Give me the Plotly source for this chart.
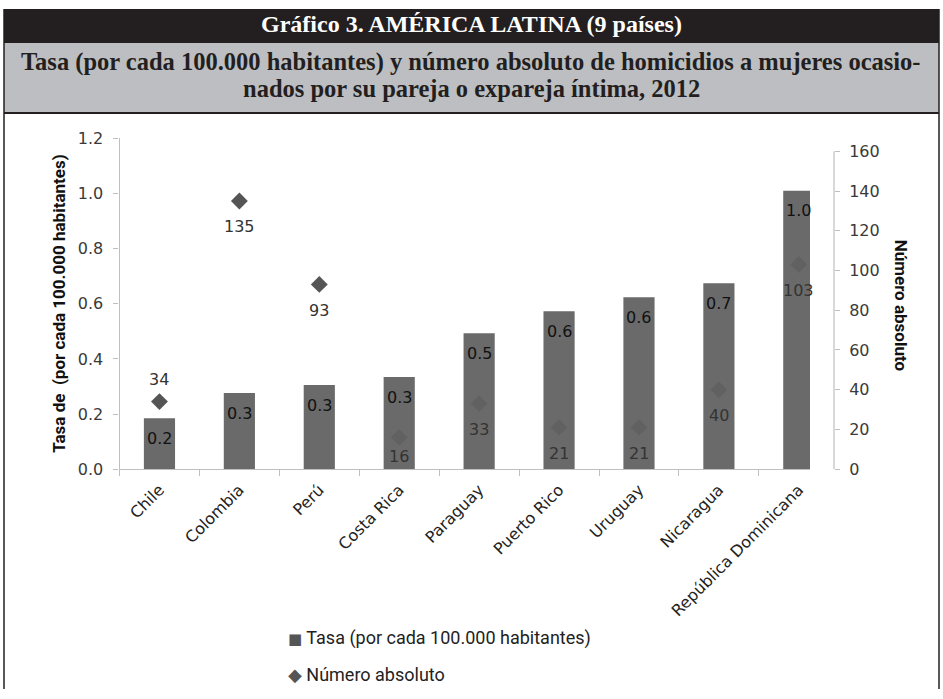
import plotly.graph_objects as go

W, H = 943, 699

categories = ["Chile", "Colombia", "Perú", "Costa Rica", "Paraguay",
              "Puerto Rico", "Uruguay", "Nicaragua", "República Dominicana"]
tasa = [0.185, 0.276, 0.305, 0.334, 0.493, 0.573, 0.624, 0.674, 1.01]
tasa_labels = ["0.2", "0.3", "0.3", "0.3", "0.5", "0.6", "0.6", "0.7", "1.0"]
numero = [34, 135, 93, 16, 33, 21, 21, 40, 103]
numero_labels = ["34", "135", "93", "16", "33", "21", "21", "40", "103"]
left_ticks = [0.0, 0.2, 0.4, 0.6, 0.8, 1.0, 1.2]
right_ticks = [0, 20, 40, 60, 80, 100, 120, 140, 160]

title = "Gráfico 3. AMÉRICA LATINA (9 países)"
subtitle_lines = ["Tasa (por cada 100.000 habitantes) y número absoluto de homicidios a mujeres ocasio-",
                  "nados por su pareja o expareja íntima, 2012"]
legend_names = ["Tasa (por cada 100.000 habitantes)", "Número absoluto"]

# style: vertical pixel offset of each "Número absoluto" label from its marker
numero_label_shift = [22, -26, -26, -19, -26, -26, -26, -26, -26]


def px(x):
    return x / W


def py(y):
    return 1 - y / H


TICKFONT = dict(family="DejaVu Sans", size=16, color="#3a3a3a")
AXCOL = "#bfbfbf"
PLOT_TOP, PLOT_BOTTOM = 133, 473

fig = go.Figure()

fig.add_trace(go.Scatter(
    x=categories, y=numero, yaxis="y", mode="markers",
    marker=dict(symbol="diamond", size=13, color="#555555"),
    name=legend_names[1], showlegend=False,
))

fig.add_trace(go.Bar(
    x=categories, y=tasa, yaxis="y2", width=0.39,
    marker=dict(color="rgba(98,98,98,0.95)", line=dict(width=0)),
    name=legend_names[0], showlegend=False,
))

annotations = []
for c, v, t in zip(categories, tasa, tasa_labels):
    annotations.append(dict(x=c, y=v, xref="x", yref="y2", text=t, showarrow=False,
                            yshift=-20, font=dict(family="DejaVu Sans", size=16, color="#111111")))
for c, v, t, sh in zip(categories, numero, numero_labels, numero_label_shift):
    annotations.append(dict(x=c, y=v, xref="x", yref="y", text=t, showarrow=False,
                            yshift=sh,
                            font=dict(family="DejaVu Sans", size=16, color="#333333")))

annotations.append(dict(x=px(471), y=py(15), xref="paper", yref="paper", text="<b>" + title + "</b>",
                        xanchor="center", yanchor="middle",
                        showarrow=False, font=dict(family="Liberation Serif", size=24, color="white")))
for line, ly in zip(subtitle_lines, [54, 82]):
    annotations.append(dict(x=px(471), y=py(ly), xref="paper", yref="paper",
                            text="<b>" + line + "</b>",
                            xanchor="center", yanchor="middle",
                            showarrow=False, align="center",
                            font=dict(family="Liberation Serif", size=24.5, color="#231f20")))
annotations.append(dict(x=px(59), y=py(303), xref="paper", yref="paper",
                        xanchor="center", yanchor="middle",
                        text="<b>Tasa de  (por cada 100.000 habitantes)</b>", textangle=-90,
                        showarrow=False, font=dict(family="Roboto", size=17, color="#111111")))
annotations.append(dict(x=px(901), y=py(305), xref="paper", yref="paper",
                        xanchor="center", yanchor="middle",
                        text="<b>Número absoluto</b>", textangle=90,
                        showarrow=False, font=dict(family="Roboto", size=17, color="#111111")))

# legend drawn as text entries
legend_symbols = ["<span style='font-size:15px'>■</span>", "<span style='font-size:18px'>◆</span>"]
legend_y = [647, 684]
for sym, name, ly in zip(legend_symbols, legend_names, legend_y):
    annotations.append(dict(x=px(286), y=py(ly), xref="paper", yref="paper",
                            xanchor="left", yanchor="middle", showarrow=False,
                            text=f"<span style='font-family:DejaVu Sans;color:#555555'>{sym}</span> {name}",
                            font=dict(family="Roboto", size=18, color="#222222")))

shapes = [
    dict(type="rect", xref="paper", yref="paper", x0=px(4), x1=px(939), y0=py(35), y1=py(0),
         fillcolor="#231f20", line=dict(width=0), layer="below"),
    dict(type="rect", xref="paper", yref="paper", x0=px(4), x1=px(939), y0=py(107), y1=py(35),
         fillcolor="#bdbec1", line=dict(width=0), layer="below"),
    dict(type="line", xref="paper", yref="paper", x0=px(4), x1=px(939), y0=py(107), y1=py(107),
         line=dict(color="#231f20", width=2)),
    dict(type="line", xref="paper", yref="paper", x0=px(4), x1=px(4), y0=py(0), y1=py(699),
         line=dict(color="#231f20", width=1.5)),
    dict(type="line", xref="paper", yref="paper", x0=px(939), x1=px(939), y0=py(0), y1=py(699),
         line=dict(color="#231f20", width=1.5)),
    dict(type="line", xref="paper", yref="y", x0=px(834), x1=px(834), y0=0, y1=160,
         line=dict(color=AXCOL, width=1.2)),
]

fig.update_layout(
    width=W, height=H, autosize=False,
    margin=dict(l=0, r=0, t=0, b=0),
    paper_bgcolor="white", plot_bgcolor="white",
    showlegend=False,
    xaxis=dict(domain=[px(119.5), px(810)], type="category", range=[-0.5, 8.14],
               tickson="boundaries", ticks="outside", ticklen=6, tickcolor=AXCOL,
               showline=True, linecolor=AXCOL, linewidth=1.2, tickangle=-45,
               ticklabelstandoff=4,
               tickfont=dict(family="DejaVu Sans", size=16, color="#222222"),
               showgrid=False, anchor="y2"),
    yaxis=dict(domain=[py(PLOT_BOTTOM), py(PLOT_TOP)], range=[0, 166.5], anchor="free", position=px(834),
               side="right", tickvals=right_ticks, ticks="outside", ticklen=5, tickcolor=AXCOL,
               ticklabelstandoff=6,
               showline=False, showgrid=False, zeroline=False, tickfont=TICKFONT),
    yaxis2=dict(overlaying="y", side="left", range=[0, 1.2], tickvals=left_ticks,
                ticktext=[f"{v:.1f}" for v in left_ticks], ticks="outside", ticklen=5,
                ticklabelstandoff=7,
                tickcolor=AXCOL, showline=True, linecolor=AXCOL, linewidth=1.2,
                showgrid=False, zeroline=False, tickfont=TICKFONT),
    annotations=annotations,
    shapes=shapes,
)

fig.write_html("out.html")
